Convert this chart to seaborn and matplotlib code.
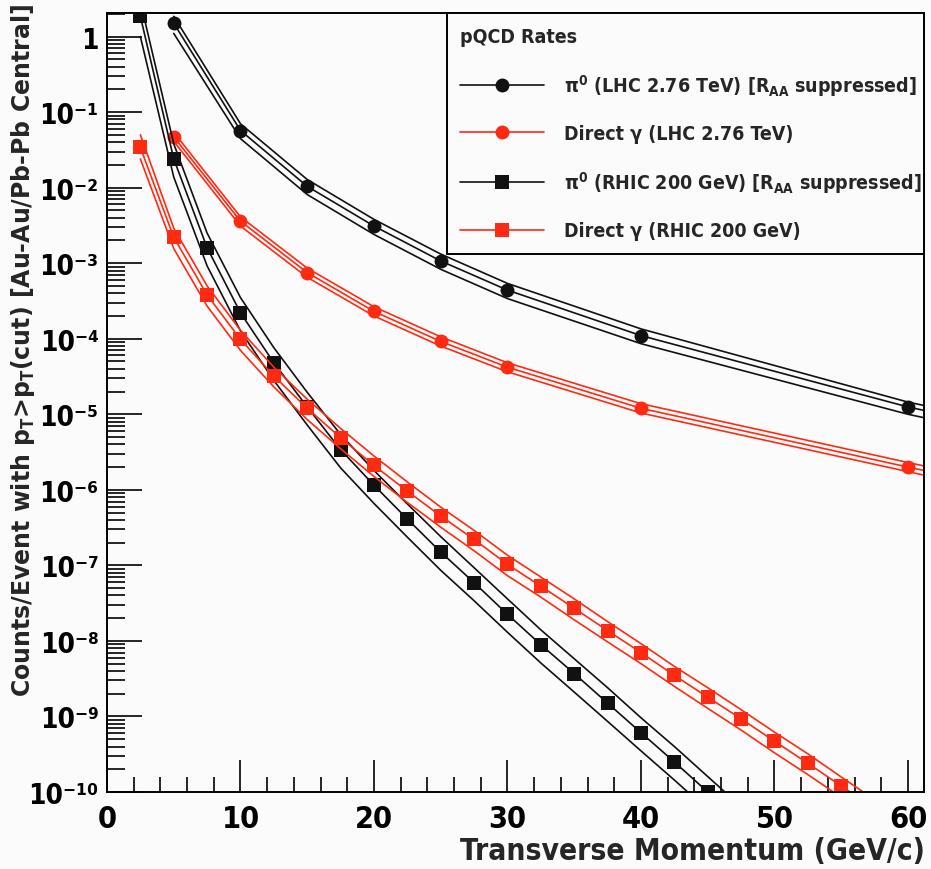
import numpy as np
import pandas as pd
import matplotlib
matplotlib.use("Agg")
import matplotlib.pyplot as plt
import seaborn as sns
from matplotlib.lines import Line2D
from matplotlib.ticker import FixedLocator, MultipleLocator, LogLocator, NullFormatter

sns.set_theme(style="ticks")
plt.rcParams['font.family'] = ['DejaVu Sans']
plt.rcParams['font.stretch'] = 'condensed'
plt.rcParams['font.weight'] = 'bold'
plt.rcParams['mathtext.fontset'] = 'custom'
plt.rcParams['mathtext.rm'] = 'DejaVu Sans:weight=bold:stretch=condensed'
plt.rcParams['mathtext.bf'] = 'DejaVu Sans:weight=bold:stretch=condensed'
plt.rcParams['mathtext.default'] = 'rm'

# --- pi0 LHC 2.76 TeV (RAA suppressed), last point only carries the lines to the frame
lhc_pt = [5, 10, 15, 20, 25, 30, 40, 60, 62]
lhc_pi0 = [1.5, 0.057, 0.0104, 0.0031, 1.07e-3, 4.4e-4, 1.1e-4, 1.25e-5, 1.05e-5]
lhc_pi0_hi = [1.85, 0.070, 0.0128, 0.0038, 1.32e-3, 5.4e-4, 1.35e-4, 1.45e-5, 1.22e-5]
lhc_pi0_lo = [1.1, 0.0445, 0.0081, 0.0024, 8.3e-4, 3.4e-4, 8.6e-5, 1.0e-5, 8.4e-6]

# --- direct photon LHC 2.76 TeV
lhc_gam = [0.047, 3.6e-3, 7.5e-4, 2.3e-4, 9.2e-5, 4.2e-5, 1.2e-5, 2.0e-6, 1.68e-6]
lhc_gam_hi = [0.054, 4.1e-3, 8.6e-4, 2.65e-4, 1.06e-4, 4.8e-5, 1.38e-5, 2.3e-6, 1.93e-6]
lhc_gam_lo = [0.041, 3.1e-3, 6.5e-4, 2.0e-4, 8.0e-5, 3.65e-5, 1.04e-5, 1.74e-6, 1.46e-6]

# --- pi0 RHIC 200 GeV
rhic_pi0_pt = [2.5, 5, 7.5, 10, 12.5, 15, 17.5, 20, 22.5, 25, 27.5, 30, 32.5, 35,
               37.5, 40, 42.5, 45, 47.5]
rhic_pi0 = [1.85, 0.024, 1.6e-3, 2.2e-4, 4.8e-5, 1.25e-5, 3.4e-6, 1.15e-6, 4.1e-7,
            1.5e-7, 5.9e-8, 2.25e-8, 8.9e-9, 3.7e-9, 1.5e-9, 6.1e-10, 2.5e-10,
            1.0e-10, 4.0e-11]
rhic_pi0_hi = [2.9, 0.038, 2.5e-3, 3.5e-4, 7.6e-5, 1.95e-5, 5.4e-6, 1.8e-6, 6.5e-7,
               2.4e-7, 9.3e-8, 3.6e-8, 1.4e-8, 5.8e-9, 2.4e-9, 9.6e-10, 4.0e-10,
               1.6e-10, 6.4e-11]
rhic_pi0_lo = [1.0, 0.0138, 9.2e-4, 1.27e-4, 2.8e-5, 7.2e-6, 1.95e-6, 6.6e-7, 2.36e-7,
               8.6e-8, 3.4e-8, 1.3e-8, 5.1e-9, 2.1e-9, 8.6e-10, 3.5e-10, 1.44e-10,
               5.8e-11, 2.3e-11]

# --- direct photon RHIC 200 GeV
rhic_gam_pt = [2.5, 5, 7.5, 10, 12.5, 15, 17.5, 20, 22.5, 25, 27.5, 30, 32.5, 35,
               37.5, 40, 42.5, 45, 47.5, 50, 52.5, 55, 57.5]
rhic_gam = [0.034, 2.2e-3, 3.8e-4, 9.8e-5, 3.2e-5, 1.2e-5, 4.9e-6, 2.1e-6, 9.6e-7,
            4.5e-7, 2.2e-7, 1.03e-7, 5.3e-8, 2.7e-8, 1.37e-8, 7.0e-9, 3.5e-9,
            1.8e-9, 9.3e-10, 4.7e-10, 2.4e-10, 1.2e-10, 6.0e-11]
rhic_gam_hi = [0.05, 2.9e-3, 5.0e-4, 1.29e-4, 4.2e-5, 1.58e-5, 6.5e-6, 2.8e-6, 1.27e-6,
               5.9e-7, 2.9e-7, 1.36e-7, 7.0e-8, 3.6e-8, 1.8e-8, 9.2e-9, 4.6e-9,
               2.4e-9, 1.23e-9, 6.2e-10, 3.2e-10, 1.58e-10, 7.9e-11]
rhic_gam_lo = [0.024, 1.56e-3, 2.7e-4, 7.0e-5, 2.3e-5, 8.5e-6, 3.5e-6, 1.5e-6, 6.8e-7,
               3.2e-7, 1.56e-7, 7.3e-8, 3.8e-8, 1.9e-8, 9.7e-9, 5.0e-9, 2.5e-9,
               1.28e-9, 6.6e-10, 3.3e-10, 1.7e-10, 8.5e-11, 4.3e-11]

labels = [r'π$^{0}$ (LHC 2.76 TeV) [R$_{AA}$ suppressed]',
          'Direct γ (LHC 2.76 TeV)',
          r'π$^{0}$ (RHIC 200 GeV) [R$_{AA}$ suppressed]',
          'Direct γ (RHIC 200 GeV)']

ytick_vals = [1e-10, 1e-9, 1e-8, 1e-7, 1e-6, 1e-5, 1e-4, 1e-3, 1e-2, 1e-1, 1]
ytick_labels = ['10⁻¹⁰', '10⁻⁹', '10⁻⁸', '10⁻⁷', '10⁻⁶',
                '10⁻⁵', '10⁻⁴', '10⁻³', '10⁻²', '10⁻¹', '1']
xtick_vals = [0, 10, 20, 30, 40, 50, 60]

BLACK = '#111111'
RED = '#ff2a12'
BG = '#fbfbfb'

fig = plt.figure(figsize=(9.31, 8.70), dpi=100, facecolor=BG)
ax = fig.add_axes([107/931, 77/870, 817/931, 779/870])
ax.set_facecolor(BG)
ax.set_yscale('log')

series = [
    (lhc_pt, lhc_pi0, lhc_pi0_hi, lhc_pi0_lo, BLACK, 'o', 10),
    (lhc_pt, lhc_gam, lhc_gam_hi, lhc_gam_lo, RED, 'o', 10),
    (rhic_pi0_pt, rhic_pi0, rhic_pi0_hi, rhic_pi0_lo, BLACK, 's', 10),
    (rhic_gam_pt, rhic_gam, rhic_gam_hi, rhic_gam_lo, RED, 's', 10),
]

handles = []
for pt, yc, yh, yl, col, mk, ms in series:
    df = pd.DataFrame({'pt': pt, 'c': yc, 'hi': yh, 'lo': yl})
    for c in ('hi', 'lo'):
        sns.lineplot(data=df, x='pt', y=c, color=col, lw=1.2, estimator=None,
                     sort=False, legend=False, ax=ax)
    sns.lineplot(data=df, x='pt', y='c', color=col, lw=1.2, marker=mk, markersize=ms,
                 markeredgewidth=0, markevery=slice(0, len(pt) - 1), estimator=None,
                 sort=False, legend=False, ax=ax)
    handles.append(Line2D([], [], color=col, lw=1.2, marker=mk, markersize=ms,
                          markeredgewidth=0))

ax.set_xlim(0, 61.2)
ax.set_ylim(1e-10, 2.05)

ax.xaxis.set_major_locator(FixedLocator(xtick_vals))
ax.xaxis.set_minor_locator(MultipleLocator(2))
ax.set_xticklabels([str(v) for v in xtick_vals])
ax.yaxis.set_major_locator(FixedLocator(ytick_vals))
ax.yaxis.set_minor_locator(LogLocator(base=10, subs=np.arange(2, 10), numticks=20))
ax.yaxis.set_minor_formatter(NullFormatter())
ax.set_yticklabels(ytick_labels)

ax.tick_params(which='both', direction='in', top=False, right=False, colors='black',
               width=1.2)
ax.tick_params(axis='x', which='major', length=23, labelsize=22, pad=9)
ax.tick_params(axis='x', which='minor', length=11)
ax.tick_params(axis='y', which='major', length=25, labelsize=20, pad=6)
ax.tick_params(axis='y', which='minor', length=13)
for lab in ax.get_xticklabels() + ax.get_yticklabels():
    lab.set_fontweight('bold')
for s in ax.spines.values():
    s.set_color('black')
    s.set_linewidth(1.4)

ax.set_xlabel('')
ax.set_ylabel('')
fig.text(925/931, 1 - 852/870, 'Transverse Momentum (GeV/c)', ha='right', va='center',
         fontsize=21.5, fontweight='bold')
fig.text(23/931, 1 - 4/870,
         r'Counts/Event with p$_{T}$>p$_{T}$(cut) [Au-Au/Pb-Pb Central]',
         rotation=90, ha='center', va='top', fontsize=17, fontweight='bold',
         fontstretch='normal')

leg = ax.legend(handles, labels, loc='upper left', mode='expand',
                bbox_to_anchor=(0.416, 0.693, 0.584, 0.307), borderaxespad=0,
                title='pQCD Rates', alignment='left', fontsize=14, title_fontsize=14,
                frameon=True, fancybox=False, edgecolor='black', facecolor=BG,
                framealpha=1, handlelength=4.3, handletextpad=1.0, labelspacing=1.35,
                borderpad=0.7)
leg.get_frame().set_linewidth(1.4)
for t in leg.get_texts():
    t.set_fontweight('bold')
leg.get_title().set_fontweight('bold')

fig.savefig('out.png', dpi=100, facecolor=BG)
